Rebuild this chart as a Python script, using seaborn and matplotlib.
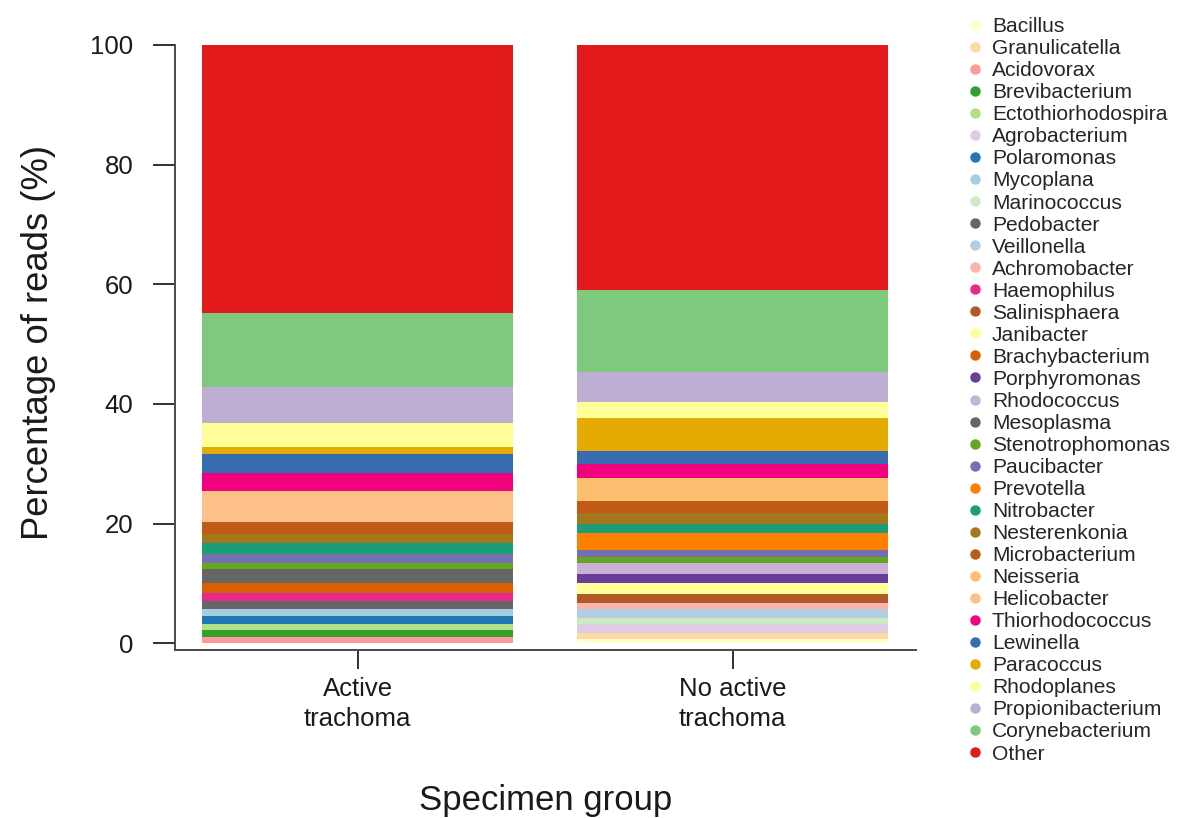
import numpy as np
import matplotlib
matplotlib.use("Agg")
import matplotlib.pyplot as plt
from matplotlib.lines import Line2D
import seaborn as sns

# Specimen groups on the x axis
groups = ["Active\ntrachoma", "No active\ntrachoma"]

# Genera in stacking order (bottom of the bar first)
genera = [
    "Bacillus", "Granulicatella", "Acidovorax", "Brevibacterium",
    "Ectothiorhodospira", "Agrobacterium", "Polaromonas", "Mycoplana",
    "Marinococcus", "Pedobacter", "Veillonella", "Achromobacter",
    "Haemophilus", "Salinisphaera", "Janibacter", "Brachybacterium",
    "Porphyromonas", "Rhodococcus", "Mesoplasma", "Stenotrophomonas",
    "Paucibacter", "Prevotella", "Nitrobacter", "Nesterenkonia",
    "Microbacterium", "Neisseria", "Helicobacter", "Thiorhodococcus",
    "Lewinella", "Paracoccus", "Rhodoplanes", "Propionibacterium",
    "Corynebacterium", "Other",
]

genus_colors = [
    "#FFFFCC", "#FED9A6", "#FB9A99", "#33A02C",
    "#B2DF8A", "#DECBE4", "#1F78B4", "#A6CEE3",
    "#CCEBC5", "#666666", "#B3CDE3", "#FBB4AE",
    "#E7298A", "#B15928", "#FFFF99", "#D95F02",
    "#6A3D9A", "#CAB2D6", "#666666", "#66A61E",
    "#7570B3", "#FF7F00", "#1B9E77", "#A6761D",
    "#BF5B17", "#FDBF6F", "#FDC086", "#F0027F",
    "#386CB0", "#E6AB02", "#FFFF99", "#BEAED4",
    "#7FC97F", "#E31A1C",
]

# Percentage of reads per genus
active_pct = [
    0.0, 0.0, 1.1, 1.1,
    1.1, 0.0, 1.2, 1.3,
    0.0, 1.2, 0.0, 0.0,
    1.4, 0.0, 0.0, 1.6,
    0.0, 0.0, 2.4, 1.1,
    1.4, 0.0, 1.9, 1.4,
    2.1, 0.0, 5.2, 2.9,
    3.3, 1.1, 4.0, 6.1,
    12.3, 44.8,
]

no_active_pct = [
    0.7, 1.1, 0.0, 0.0,
    0.0, 1.4, 0.0, 0.0,
    1.1, 0.0, 1.4, 1.1,
    0.0, 1.4, 1.8, 0.0,
    1.6, 1.8, 0.0, 1.1,
    1.1, 2.8, 1.6, 1.8,
    1.9, 4.0, 0.0, 2.2,
    2.2, 5.5, 2.8, 4.9,
    13.8, 40.9,
]

sns.set_style("white")
plt.rcParams["font.family"] = ["Liberation Sans", "DejaVu Sans"]

fig = plt.figure(figsize=(11.99, 8.18), dpi=100)
ax = fig.add_axes([0.146, 0.2048, 0.618, 0.7402])

bottom = np.zeros(len(groups))
for genus, col, a, n in zip(genera, genus_colors, active_pct, no_active_pct):
    vals = np.array([a, n])
    sns.barplot(x=groups, y=vals, order=groups, color=col, saturation=1,
                width=0.829, bottom=bottom, errorbar=None, linewidth=0, ax=ax)
    bottom = bottom + vals

ax.set_xlim(-0.487, 1.489)
ax.set_ylim(-1.2, 100)
ax.set_yticks([0, 20, 40, 60, 80, 100])
ax.set_xticks([0, 1])
ax.set_xticklabels(groups, linespacing=1.3)

for side in ["top", "right"]:
    ax.spines[side].set_visible(False)
for side in ["left", "bottom"]:
    ax.spines[side].set_color("#4a4a4a")
    ax.spines[side].set_linewidth(1.4)

ax.tick_params(axis="y", length=16, width=1.3, color="#222222", pad=14,
               labelsize=18.5, labelcolor="#1a1a1a", left=True)
ax.tick_params(axis="x", length=14, width=1.3, color="#222222", pad=5,
               labelsize=18.5, labelcolor="#1a1a1a", bottom=True)

ax.set_ylabel("Percentage of reads (%)", fontsize=26.3, color="#1a1a1a", labelpad=25)
ax.yaxis.label.set_y(0.508)
ax.set_xlabel("Specimen group", fontsize=25, color="#1a1a1a", labelpad=38.5)

handles = [Line2D([], [], marker="o", linestyle="", markersize=6.5,
                  markerfacecolor=c, markeredgecolor=c) for c in genus_colors]
fig.legend(handles, genera, loc="upper left", bbox_to_anchor=(0.808, 0.979),
           frameon=False, fontsize=15.1, handlelength=0.6, handletextpad=0.5,
           labelspacing=0.145, borderpad=0, borderaxespad=0)

fig.savefig("out.png", dpi=100)
